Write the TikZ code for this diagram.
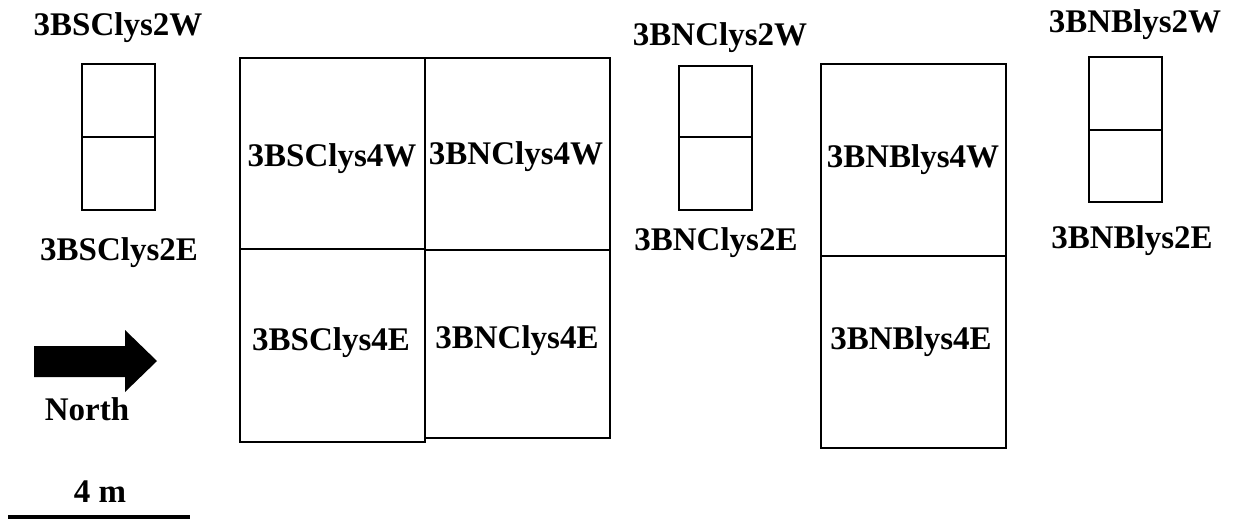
\documentclass[tikz,border=0pt]{standalone}
\usepackage{fontspec}
\setmainfont{Liberation Serif}
\begin{document}
\begin{tikzpicture}[x=1pt,y=-1pt,
  box/.style={draw=black,line width=2.8pt,line join=miter},
  lbl/.style={inner sep=0pt,anchor=base,font=\fontsize{33}{36}\selectfont\bfseries}]
\useasboundingbox (0,0) rectangle (1234,520);
% small boxes
\draw[box] (82,64) rectangle (155,210);
\draw[box] (82,137) -- (155,137);
\draw[box] (679,66) rectangle (752,210);
\draw[box] (679,137) -- (752,137);
\draw[box] (1089,57) rectangle (1162,202);
\draw[box] (1089,130) -- (1162,130);
% central block
\draw[box] (240,58) rectangle (425,442);
\draw[box] (240,249) -- (425,249);
\draw[box] (425,58) rectangle (610,438);
\draw[box] (425,250) -- (610,250);
% right big block
\draw[box] (821,64) rectangle (1006,448);
\draw[box] (821,256) -- (1006,256);
% labels
\node[lbl] (a2w) at (118,35) {3BSClys2W};
\node[lbl] (a2e) at (119,260) {3BSClys2E};
\node[lbl] (a4w) at (332,166) {3BSClys4W};
\node[lbl] (b4w) at (516,164) {3BNClys4W};
\node[lbl] (a4e) at (331,350) {3BSClys4E};
\node[lbl] (b4e) at (517,348) {3BNClys4E};
\node[lbl] (b2w) at (720,45) {3BNClys2W};
\node[lbl] (b2e) at (716,250) {3BNClys2E};
\node[lbl] (c4w) at (913,167) {3BNBlys4W};
\node[lbl] (c4e) at (911,349) {3BNBlys4E};
\node[lbl] (c2w) at (1135,32) {3BNBlys2W};
\node[lbl] (c2e) at (1132,248) {3BNBlys2E};
% north arrow
\fill[black] (34,346) -- (125,346) -- (125,330) -- (157,361) -- (125,392) -- (125,377) -- (34,377) -- cycle;
\node[lbl] (north) at (87,420) {North};
% scale bar
\node[lbl] (scale) at (100,502) {4 m};
\draw[black,line width=4pt] (8,517) -- (190,517);
\end{tikzpicture}
\end{document}
